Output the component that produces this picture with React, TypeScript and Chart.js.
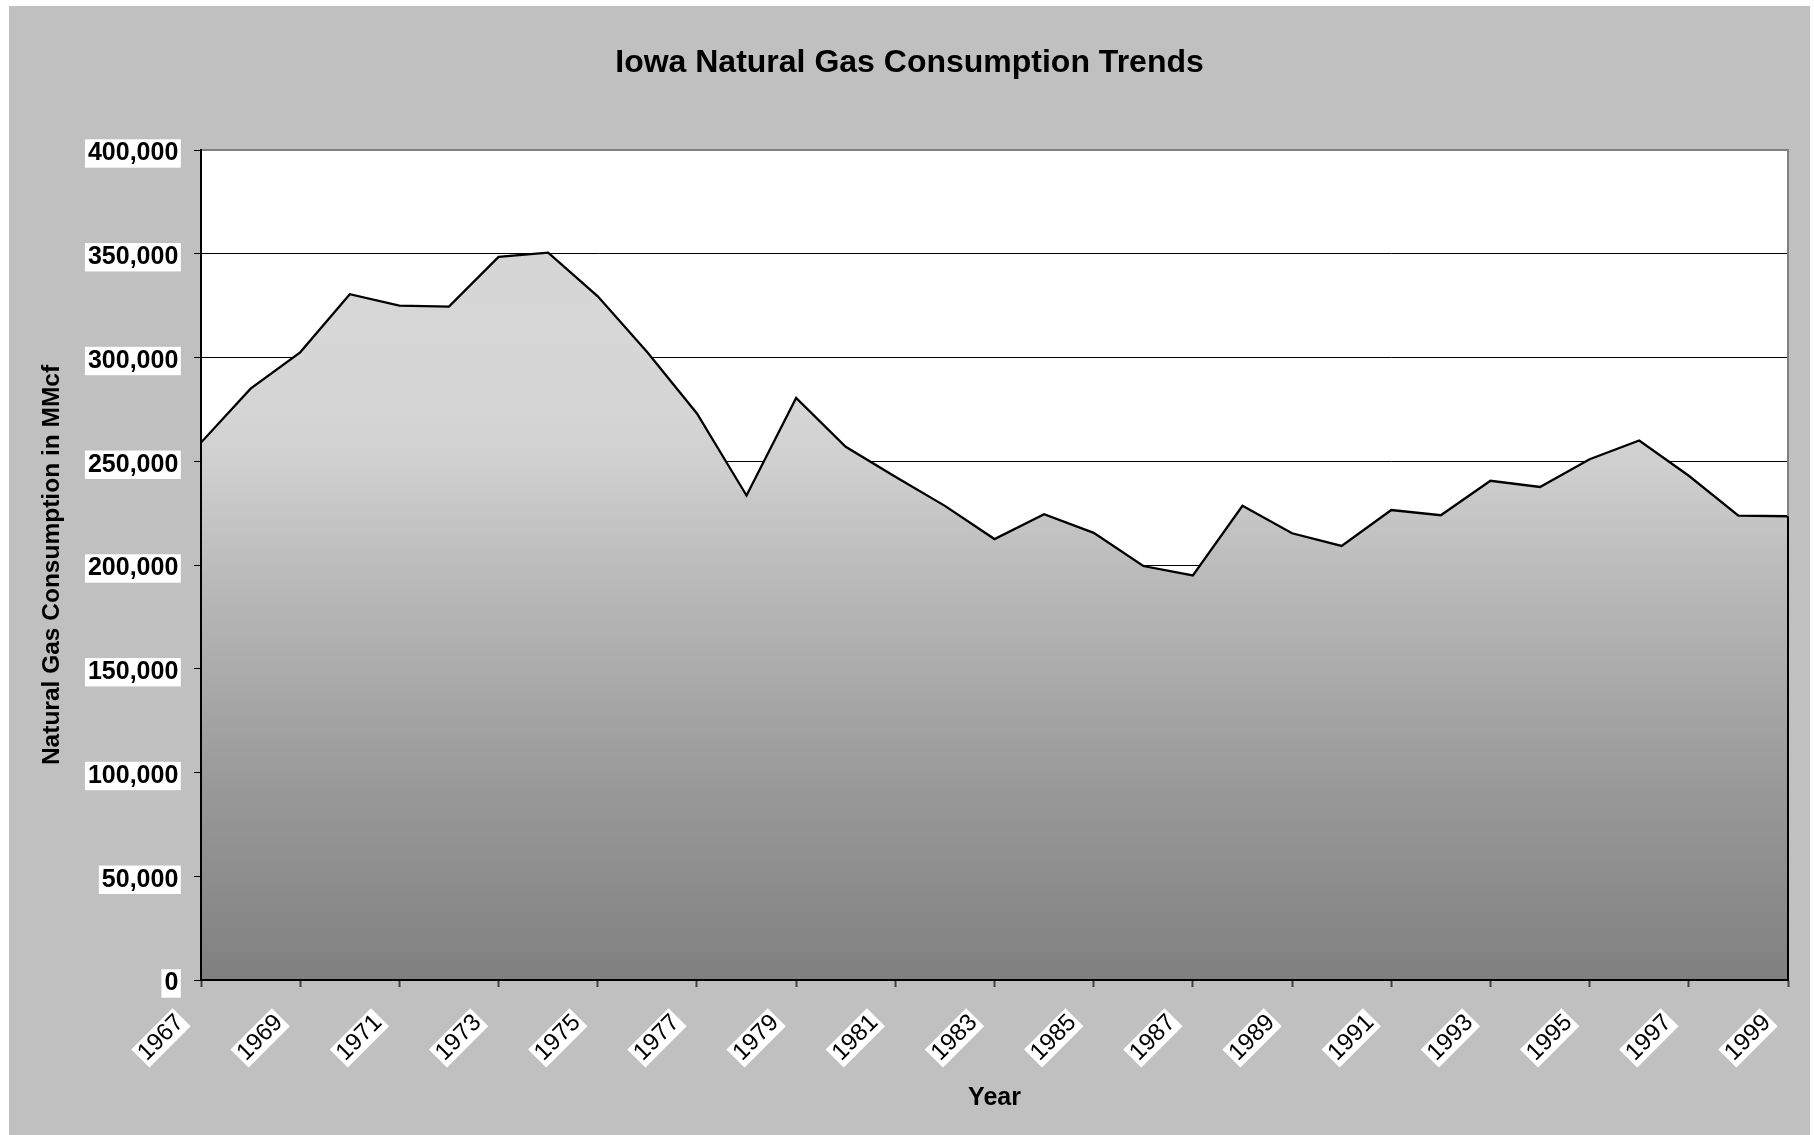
import React, { useEffect, useRef } from 'react';
import { Chart, registerables } from 'chart.js';

Chart.register(...registerables);

// ---- data ----
const years = [
  1967, 1968, 1969, 1970, 1971, 1972, 1973, 1974, 1975, 1976, 1977,
  1978, 1979, 1980, 1981, 1982, 1983, 1984, 1985, 1986, 1987, 1988,
  1989, 1990, 1991, 1992, 1993, 1994, 1995, 1996, 1997, 1998, 1999,
];
const consumption = [
  259000, 285000, 302500, 330500, 325000, 324500, 348500, 350500, 329500, 302500, 273000,
  233500, 280500, 257000, 242500, 228500, 212500, 224500, 215500, 199500, 195000, 228500,
  215300, 209200, 226500, 224000, 240600, 237600, 251000, 260000, 243000, 223800, 223500,
];
const xTickYears = [
  1967, 1969, 1971, 1973, 1975, 1977, 1979, 1981, 1983, 1985, 1987,
  1989, 1991, 1993, 1995, 1997, 1999,
];
const yTickValues = [0, 50000, 100000, 150000, 200000, 250000, 300000, 350000, 400000];

const chartTitle = 'Iowa Natural Gas Consumption Trends';
const yTitle = 'Natural Gas Consumption in MMcf';
const xTitle = 'Year';

const FONT = "'Liberation Sans', Arial, Helvetica, sans-serif";

export default function App() {
  const canvasRef = useRef<HTMLCanvasElement | null>(null);

  useEffect(() => {
    if (!canvasRef.current) return;

    const framePlugin = {
      id: 'frame',
      beforeDraw(chart: any) {
        const { ctx, chartArea: a } = chart;
        ctx.save();
        ctx.fillStyle = '#ffffff';
        ctx.fillRect(a.left, a.top, a.right - a.left, a.bottom - a.top);
        ctx.restore();
      },
      afterDatasetsDraw(chart: any) {
        const { ctx, chartArea: a } = chart;
        const yScale = chart.scales.y;
        const lastY = yScale.getPixelForValue(consumption[consumption.length - 1]);
        ctx.save();
        ctx.lineWidth = 2;
        ctx.strokeStyle = '#808080';
        ctx.beginPath();
        ctx.moveTo(a.left, a.top);
        ctx.lineTo(a.right, a.top);
        ctx.lineTo(a.right, lastY);
        ctx.stroke();
        ctx.strokeStyle = '#000000';
        ctx.beginPath();
        ctx.moveTo(a.right, lastY);
        ctx.lineTo(a.right, a.bottom);
        ctx.stroke();
        ctx.restore();
      },
    };

    const gradientFill = (context: any) => {
      const chart = context.chart;
      const a = chart.chartArea;
      if (!a) return '#b0b0b0';
      const g = chart.ctx.createLinearGradient(0, a.top, 0, a.bottom);
      g.addColorStop(0, '#d4d4d4');
      g.addColorStop(0.22, '#d7d7d7');
      g.addColorStop(0.33, '#d4d4d4');
      g.addColorStop(0.38, '#cfcfcf');
      g.addColorStop(0.5, '#bcbcbc');
      g.addColorStop(0.55, '#b5b5b5');
      g.addColorStop(0.76, '#9a9a9a');
      g.addColorStop(1, '#808080');
      return g;
    };

    const chart = new Chart(canvasRef.current, {
      type: 'line',
      data: {
        datasets: [
          {
            data: years.map((yr, i) => ({ x: yr, y: consumption[i] })),
            borderColor: '#000000',
            borderWidth: 2.3,
            pointRadius: 0,
            pointHoverRadius: 0,
            tension: 0,
            fill: 'origin',
            backgroundColor: gradientFill,
          },
        ],
      },
      options: {
        animation: false,
        responsive: true,
        maintainAspectRatio: false,
        layout: { padding: 0 },
        plugins: {
          legend: { display: false },
          tooltip: { enabled: false },
          title: {
            display: true,
            text: chartTitle,
            color: '#000000',
            font: { family: FONT, size: 32, weight: 'bold', lineHeight: 1.2 },
            padding: { top: 38, bottom: 67.6 },
          },
        },
        scales: {
          x: {
            type: 'linear',
            min: years[0],
            max: years[years.length - 1],
            afterBuildTicks: (s: any) => {
              s.ticks = xTickYears.map((v) => ({ value: v }));
            },
            afterFit: (s: any) => {
              s.height = 155;
              s.paddingLeft = 0;
              s.paddingRight = 22;
            },
            grid: {
              drawOnChartArea: false,
              drawTicks: true,
              tickLength: 7,
              tickColor: '#404040',
              tickWidth: 2,
            },
            border: { display: true, color: '#000000', width: 2, z: 1 },
            ticks: {
              autoSkip: false,
              maxRotation: 45,
              minRotation: 45,
              color: '#000000',
              font: { family: FONT, size: 24, lineHeight: 1 },
              padding: 23.5,
              labelOffset: -29.6,
              showLabelBackdrop: true,
              backdropColor: '#ffffff',
              backdropPadding: { top: 0.8, bottom: 0.8, left: 2.5, right: 2.5 },
              callback: (v: any) => String(v),
            },
            title: {
              display: true,
              text: xTitle,
              color: '#000000',
              font: { family: FONT, size: 25, weight: 'bold', lineHeight: 1.2 },
              padding: { top: 0, bottom: 22 },
            },
          },
          y: {
            min: 0,
            max: 400000,
            afterBuildTicks: (s: any) => {
              s.ticks = yTickValues.map((v) => ({ value: v }));
            },
            afterFit: (s: any) => {
              s.width = 192;
              s.paddingTop = 0;
              s.paddingBottom = 0;
            },
            grid: {
              color: '#000000',
              lineWidth: 1,
              drawTicks: true,
              tickLength: 7,
              tickColor: '#000000',
              tickWidth: 1,
            },
            border: { display: true, color: '#000000', width: 2, z: 1 },
            ticks: {
              color: '#000000',
              font: { family: FONT, size: 25, weight: 'bold', lineHeight: 1 },
              padding: 15.7,
              labelOffset: 3.5,
              showLabelBackdrop: true,
              backdropColor: '#ffffff',
              backdropPadding: { top: 1.7, bottom: 1.7, left: 3, right: 2.5 },
              callback: (v: any) => Number(v).toLocaleString('en-US'),
            },
            title: {
              display: true,
              text: yTitle,
              color: '#000000',
              font: { family: FONT, size: 24.5, weight: 'bold', lineHeight: 1.2 },
              padding: { top: 28.6, bottom: 0 },
            },
          },
        },
      },
      plugins: [framePlugin],
    } as any);

    return () => {
      chart.destroy();
    };
  }, []);

  return (
    <div
      style={{
        position: 'fixed',
        left: 9,
        top: 6,
        width: 1801,
        height: 1129,
        background: '#c0c0c0',
      }}
    >
      <canvas ref={canvasRef} />
    </div>
  );
}
